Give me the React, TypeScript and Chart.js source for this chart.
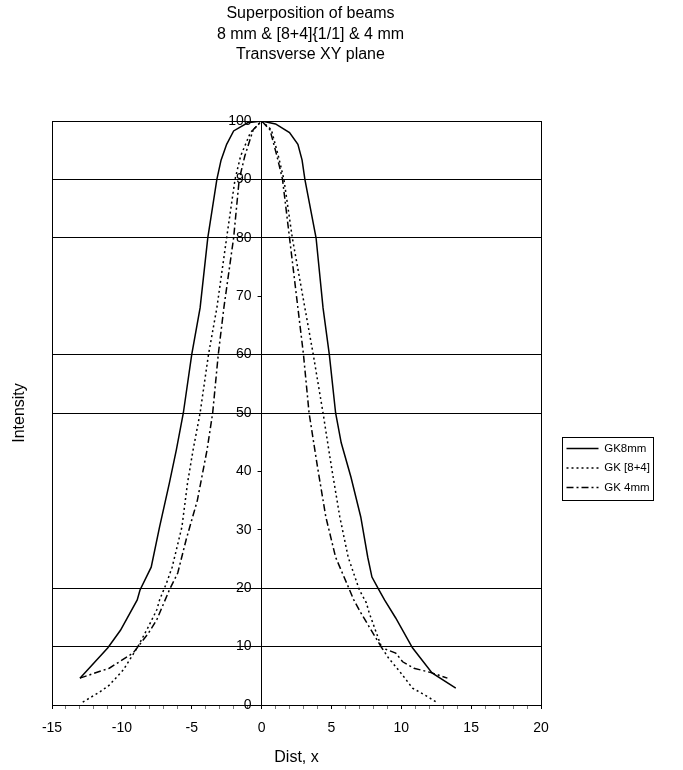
import React, { useEffect, useRef } from 'react';
import { Chart, registerables } from 'chart.js';

Chart.register(...registerables);

// ---- Data ----
const TITLE_LINES = ['Superposition of beams', '8 mm & [8+4]{1/1] & 4 mm', 'Transverse XY plane'];
const X_TITLE = 'Dist, x';
const Y_TITLE = 'Intensity';
const SERIES_NAMES = ['GK8mm', 'GK [8+4]', 'GK 4mm'];

const gk8X = [-13, -11, -10.1, -8.9, -8.7, -7.9, -7.3, -6.6, -6.1, -5.6, -5.0, -4.4, -3.85, -3.2, -2.9, -2.5, -2, -1, 0, 1, 2, 2.6, 2.9, 3.1, 3.9, 4.4, 4.85, 5.3, 5.7, 6.4, 7.1, 7.6, 7.9, 8.4, 8.8, 9.6, 10.8, 12.2, 13.9];
const gk8Y = [4.6, 9.8, 12.8, 18, 19.7, 23.6, 30.5, 38, 43.7, 50, 60, 68, 80, 90, 93.3, 96, 98.3, 99.7, 100, 99.5, 98, 96, 93.3, 90, 80, 68, 60, 50, 44.9, 39, 32.2, 25.3, 21.9, 19.7, 18, 14.9, 9.8, 5.5, 2.9];

const gk84X = [-12.8, -11.6, -10.9, -9.9, -8.9, -8.1, -7.5, -7.3, -6.8, -6.4, -5.7, -5.3, -4.9, -4.4, -3.8, -3.2, -2.5, -1.9, -1.5, -0.8, 0, 0.7, 1.2, 1.6, 2.2, 3.1, 3.7, 4.4, 5.0, 5.6, 6.2, 7.0, 7.5, 7.7, 8.6, 9.1, 9.9, 10.8, 11.9, 12.5];
const gk84Y = [0.5, 2.2, 3.4, 6, 9.8, 13.4, 16.3, 18, 20.9, 23.6, 30.5, 38, 43.7, 50, 60, 68, 80, 90, 94, 98, 100, 98.5, 94, 90, 80, 68, 60, 50, 40.8, 32.2, 25.3, 19.7, 17.5, 15.8, 9.8, 8, 5.7, 2.9, 1.4, 0.5];

const gk4X = [-13, -10.9, -9.2, -8.9, -8.1, -7.5, -6.9, -6.6, -6.0, -5.4, -4.6, -3.9, -3.5, -3.1, -2.7, -2.0, -1.6, -1.2, -0.6, 0, 0.6, 1.1, 1.5, 2.0, 2.6, 3.0, 3.4, 4.0, 4.6, 5.3, 6.3, 6.6, 7.1, 8.6, 9.6, 10.1, 10.9, 12.2, 13.3];
const gk4Y = [4.6, 6.3, 8.9, 9.8, 12.3, 14.6, 18, 19.7, 22.6, 28.3, 35, 43.7, 50, 60, 68, 80, 90, 94, 98.5, 100, 98.5, 94, 90, 80, 68, 60, 50, 40.8, 32.2, 25.3, 19.7, 18, 15.8, 9.8, 8.9, 7.4, 6.3, 5.5, 4.6];

const X_MIN = -15;
const X_MAX = 20;
const X_MAJOR = 5;
const X_MINOR = 1;
const Y_MIN = 0;
const Y_MAX = 100;
const Y_STEP = 10;
const Y_AXIS_AT = 0;
const Y_NO_GRID = [30, 40, 70];

const FONT = "'Liberation Sans', Arial, Helvetica, sans-serif";

const LEGEND_AREA = 142;
const LEGEND_SHIFT_X = 17.5;
const LEGEND_SHIFT_Y = 55;
const TITLE_SHIFT_X = 14;

const isMajorX = (v: number) => Math.abs(v % X_MAJOR) < 1e-9;

const layoutFix = {
  id: 'layoutFix',
  beforeUpdate(chart: any) {
    const lg = chart.legend;
    if (lg && !lg.__patched) {
      const orig = lg.fit;
      lg.fit = function () {
        orig.call(this);
        this.width = LEGEND_AREA;
      };
      lg.__patched = true;
    }
  },
  afterLayout(chart: any) {
    const lg = chart.legend;
    if (lg) {
      lg.left += LEGEND_SHIFT_X;
      lg.right += LEGEND_SHIFT_X;
      lg.top += LEGEND_SHIFT_Y;
      lg.bottom += LEGEND_SHIFT_Y;
    }
    const tb = chart.titleBlock;
    if (tb) {
      tb.left += TITLE_SHIFT_X;
      tb.right += TITLE_SHIFT_X;
    }
    // value axis sits on the x = 0 line, labels to its left
    const ys = chart.scales.y;
    const xs = chart.scales.x;
    if (ys && xs) {
      const px = xs.getPixelForValue(Y_AXIS_AT);
      ys.right = px;
      ys.left = px - 40;
      ys.width = 40;
    }
  },
  afterDraw(chart: any) {
    const lg = chart.legend;
    if (!lg || !lg.legendHitBoxes || !lg.legendHitBoxes.length) return;
    let l = Infinity, t = Infinity, r = -Infinity, b = -Infinity;
    for (const h of lg.legendHitBoxes) {
      l = Math.min(l, h.left);
      t = Math.min(t, h.top);
      r = Math.max(r, h.left + h.width);
      b = Math.max(b, h.top + h.height);
    }
    const ctx = chart.ctx;
    ctx.save();
    ctx.strokeStyle = '#000';
    ctx.lineWidth = 1;
    ctx.setLineDash([]);
    ctx.strokeRect(Math.round(l - 5) + 0.5, Math.round(t - 6) + 0.5, Math.round(r - l + 8), Math.round(b - t + 12));
    ctx.restore();
  },
};

const toPts = (xs: number[], ys: number[]) => xs.map((x, i) => ({ x, y: ys[i] }));

export default function App() {
  const ref = useRef<HTMLCanvasElement | null>(null);

  useEffect(() => {
    if (!ref.current) return;
    const chart = new Chart(ref.current, {
      type: 'line',
      data: {
        datasets: [
          {
            label: SERIES_NAMES[0],
            data: toPts(gk8X, gk8Y),
            borderColor: '#000',
            backgroundColor: '#000',
            borderWidth: 1.5,
            borderDash: [],
            pointRadius: 0,
            tension: 0,
            fill: false,
          },
          {
            label: SERIES_NAMES[1],
            data: toPts(gk84X, gk84Y),
            borderColor: '#000',
            backgroundColor: '#000',
            borderWidth: 1.5,
            borderDash: [2, 3],
            pointRadius: 0,
            tension: 0,
            fill: false,
          },
          {
            label: SERIES_NAMES[2],
            data: toPts(gk4X, gk4Y),
            borderColor: '#000',
            backgroundColor: '#000',
            borderWidth: 1.5,
            borderDash: [7, 3, 2, 3],
            pointRadius: 0,
            tension: 0,
            fill: false,
          },
        ],
      },
      options: {
        animation: false,
        responsive: true,
        maintainAspectRatio: false,
        layout: { padding: { left: 0, right: 0, top: 0, bottom: 0 } },
        font: { family: FONT },
        color: '#000',
        plugins: {
          tooltip: { enabled: false },
          title: {
            display: true,
            text: TITLE_LINES,
            color: '#000',
            fullSize: false,
            font: { family: FONT, size: 16, weight: 'normal', lineHeight: 1.3 },
            padding: { top: 3, bottom: 55.6 },
          },
          legend: {
            display: true,
            position: 'right',
            align: 'center',
            fullSize: false,
            labels: {
              color: '#000',
              font: { family: FONT, size: 11.5 },
              usePointStyle: true,
              pointStyle: 'line',
              pointStyleWidth: 32,
              padding: 8,
              generateLabels: (chart: any) =>
                chart.data.datasets.map((ds: any, i: number) => ({
                  text: ds.label,
                  datasetIndex: i,
                  hidden: false,
                  fillStyle: '#000',
                  strokeStyle: '#000',
                  fontColor: '#000',
                  lineWidth: 1.5,
                  lineDash: ds.borderDash || [],
                  lineCap: 'butt',
                  pointStyle: 'line',
                })),
            },
          },
        },
        scales: {
          x: {
            type: 'linear',
            position: 'bottom',
            min: X_MIN,
            max: X_MAX,
            afterFit: (s: any) => {
              s.height = 65;
            },
            ticks: {
              stepSize: X_MINOR,
              autoSkip: false,
              color: '#000',
              font: { family: FONT, size: 14 },
              padding: 11,
              maxRotation: 0,
              callback: (v: any) => (isMajorX(Number(v)) ? String(v) : ''),
            },
            grid: {
              color: (c: any) => (c.tick && (c.tick.value === X_MIN || c.tick.value === X_MAX) ? '#000' : 'rgba(0,0,0,0)'),
              tickColor: (c: any) => (c.tick && isMajorX(c.tick.value) ? '#000' : '#777'),
              tickLength: 4,
              lineWidth: 1,
            },
            border: { display: true, color: '#000', width: 1 },
            title: {
              display: true,
              text: X_TITLE,
              color: '#000',
              font: { family: FONT, size: 16 },
              padding: { top: 0, bottom: 3 },
            },
          },
          y: {
            type: 'linear',
            position: 'left',
            min: Y_MIN,
            max: Y_MAX,
            afterFit: (s: any) => {
              s.width = 0;
            },
            ticks: {
              stepSize: Y_STEP,
              color: '#000',
              font: { family: FONT, size: 14 },
              padding: 6,
            },
            grid: {
              color: (c: any) => (c.tick && Y_NO_GRID.includes(c.tick.value) ? 'rgba(0,0,0,0)' : '#000'),
              tickColor: '#000',
              tickLength: 4,
              lineWidth: 1,
            },
            border: { display: true, color: '#000', width: 1 },
          },
          yTitle: {
            type: 'linear',
            position: 'left',
            min: Y_MIN,
            max: Y_MAX,
            afterFit: (s: any) => {
              s.width = 52;
            },
            ticks: { display: false },
            grid: { display: false, drawTicks: false },
            border: { display: false },
            title: {
              display: true,
              text: Y_TITLE,
              color: '#000',
              font: { family: FONT, size: 16 },
              padding: { top: 10, bottom: 20 },
            },
          },
        },
      } as any,
      plugins: [layoutFix],
    });
    return () => chart.destroy();
  }, []);

  return (
    <div style={{ position: 'absolute', left: 0, top: 0, width: 683, height: 770, background: '#fff' }}>
      <canvas ref={ref} />
    </div>
  );
}
